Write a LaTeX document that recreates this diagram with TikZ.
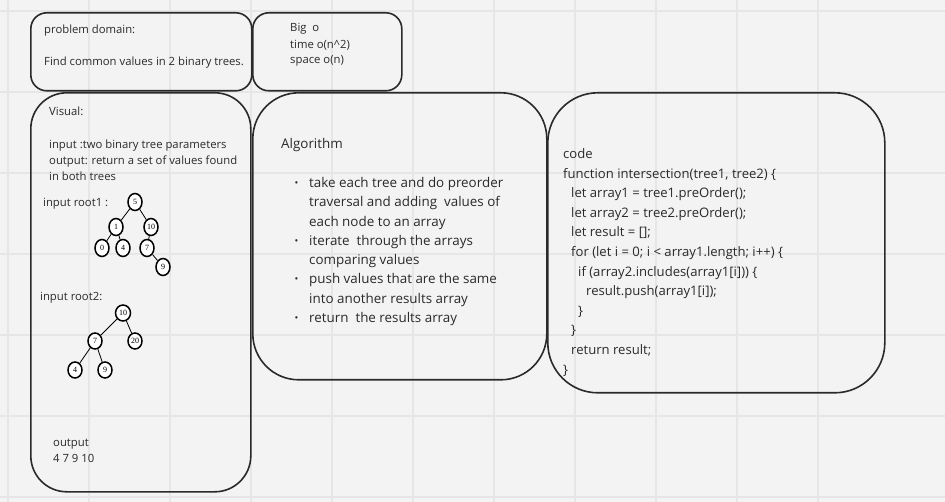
\documentclass[tikz,border=0pt]{standalone}
\usepackage{fontspec}
\setmainfont{Open Sans}
\newfontfamily\treefont{Liberation Serif}
\usetikzlibrary{shapes.geometric}
\definecolor{bg}{HTML}{F3F3F3}
\definecolor{gridc}{HTML}{E6E6E6}
\definecolor{ink}{HTML}{2A2A2A}
\tikzset{
  gridline/.style={draw=gridc, line width=1.5pt},
  card/.style={draw=ink, line width=1.6pt, fill=none, inner sep=0pt, anchor=north west},
  smalltxt/.style={anchor=base west, inner sep=0pt, text=ink, font=\fontsize{11.3}{12}\selectfont},
  algtxt/.style={anchor=base west, inner sep=0pt, text=ink, font=\fontsize{13.4}{14}\selectfont},
  codetxt/.style={anchor=base west, inner sep=0pt, text=ink, font=\fontsize{13.1}{14}\selectfont},
  tnode/.style={ellipse, draw=black, line width=1.5pt, fill=white, inner sep=0pt, minimum width=14pt, minimum height=17pt, font=\treefont\fontsize{8}{9}\selectfont},
  tedge/.style={draw=black, line width=0.8pt}
}
\begin{document}
\begin{tikzpicture}[x=1pt,y=-1pt]
\fill[bg] (0,0) rectangle (945,502);
\useasboundingbox (0,0) rectangle (945,502);
\foreach \gx in {8,89,...,898} \draw[gridline] (\gx,0) -- (\gx,502);
\foreach \gy in {11,92,...,497} \draw[gridline] (0,\gy) -- (945,\gy);

% cards
\node[card, rounded corners=16pt, minimum width=221pt, minimum height=78pt] (pd) at (30,12) {};
\node[card, rounded corners=16pt, minimum width=149pt, minimum height=78pt] (bigo) at (252,12) {};
\node[card, rounded corners=36pt, minimum width=220pt, minimum height=399pt] (vis) at (30,92) {};
\node[card, rounded corners=46pt, minimum width=294pt, minimum height=287pt] (alg) at (252,92) {};
\node[card, rounded corners=50pt, minimum width=337pt, minimum height=300pt] (code) at (547,92) {};

% problem domain
\node[smalltxt] (pd1) at (44,34) {problem domain:};
\node[smalltxt] (pd2) at (44,66) {Find common values in 2 binary trees.};

% big o
\node[smalltxt] (bo1) at (290,32) {Big\ \ o};
\node[smalltxt] (bo2) at (290,49) {time o(n\textasciicircum 2)};
\node[smalltxt] (bo3) at (290,64) {space o(n)};

% visual
\node[smalltxt] (v1) at (49,116) {Visual:};
\node[smalltxt] (v2) at (49,149) {input :two binary tree parameters};
\node[smalltxt] (v3) at (49,165) {output: return a set of values found};
\node[smalltxt] (v4) at (49,181) {in both trees};
\node[smalltxt] (r1) at (43,207) {input root1 :};
\node[smalltxt] (r2) at (40,301) {input root2:};
\node[smalltxt] (o1) at (53,446) {output};
\node[smalltxt] (o2) at (53,462) {4 7 9 10};

% tree 1
\node[tnode] (a5) at (135,202) {5};
\node[tnode] (a1) at (116,227) {1};
\node[tnode] (a10) at (151,227) {10};
\node[tnode] (a0) at (102,248) {0};
\node[tnode] (a4) at (123,248) {4};
\node[tnode] (a7) at (147,248) {7};
\node[tnode] (a9) at (163,267) {9};
\draw[tedge] (a5) -- (a1);
\draw[tedge] (a1) -- (a0);
\draw[tedge] (a1) -- (a4);
\draw[tedge] (a5) -- (a10);
\draw[tedge] (a10) -- (a7);
\draw[tedge] (a7) -- (a9);

% tree 2
\node[tnode, minimum width=15pt, minimum height=16pt] (b10) at (123,313) {10};
\node[tnode, minimum height=16pt] (b7) at (95,341) {7};
\node[tnode, minimum height=16pt] (b20) at (135,341) {20};
\node[tnode, minimum height=16pt] (b4) at (75,370) {4};
\node[tnode, minimum height=16pt] (b9) at (105,370) {9};
\draw[tedge] (b10) -- (b7);
\draw[tedge] (b10) -- (b20);
\draw[tedge] (b7) -- (b4);
\draw[tedge] (b7) -- (b9);

% algorithm
\node[algtxt] (algt) at (281,148.5) {Algorithm};
\foreach \yy/\tx [count=\k] in {187.5/take each tree and do preorder, 206.8/traversal and adding\ \ values of, 226.1/each node to an array, 245.4/iterate\ \ through the arrays, 264.7/comparing values, 284/push values that are the same, 303.3/into another results array, 322.6/return\ \ the results array}
  \node[algtxt] (al\k) at (309,\yy) {\tx};
\foreach \yy [count=\k] in {187.5,245.4,284,322.6}
  \node[algtxt, font=\fontsize{10}{11}\selectfont] (bul\k) at (294.5,\yy-1) {•};

% code
\node[codetxt] (c0) at (563,158.5) {code};
\node[codetxt] (c1) at (563,178.1) {function intersection(tree1, tree2) \{};
\node[codetxt] (c2) at (571,197.7) {let array1 = tree1.preOrder();};
\node[codetxt] (c3) at (571,217.3) {let array2 = tree2.preOrder();};
\node[codetxt] (c4) at (571,236.9) {let result = [];};
\node[codetxt] (c5) at (571,256.5) {for (let i = 0; i < array1.length; i++) \{};
\node[codetxt] (c6) at (578,276.1) {if (array2.includes(array1[i])) \{};
\node[codetxt] (c7) at (586,295.7) {result.push(array1[i]);};
\node[codetxt] (c8) at (578,315.3) {\}};
\node[codetxt] (c9) at (571,334.9) {\}};
\node[codetxt] (c10) at (571,354.5) {return result;};
\node[codetxt] (c11) at (563,374.1) {\}};
\end{tikzpicture}
\end{document}
